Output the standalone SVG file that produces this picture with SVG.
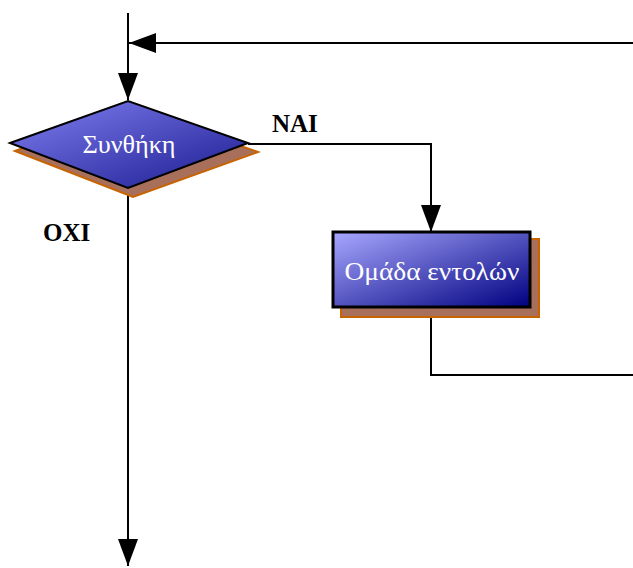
<svg xmlns="http://www.w3.org/2000/svg" width="633" height="568" viewBox="0 0 633 568">
<style>
.ln{fill:none;stroke:#000;stroke-width:2}
.lbl{font-family:"Liberation Serif","Times New Roman",serif;font-weight:bold;font-size:25px;fill:#000}
.ntxt{font-family:"Liberation Serif","DejaVu Serif","Times New Roman",serif;font-size:25px;fill:#fff;text-anchor:middle}
.shadow{fill:#a8705a;stroke:#c86400;stroke-width:2}
</style>
<defs>
<linearGradient id="gd" x1="0" y1="0" x2="1" y2="1">
<stop offset="0" stop-color="#8080f0"/>
<stop offset="1" stop-color="#1a1a90"/>
</linearGradient>
<linearGradient id="gr" x1="0" y1="0" x2="1" y2="1">
<stop offset="0" stop-color="#a8a8ff"/>
<stop offset="1" stop-color="#000080"/>
</linearGradient>
<marker id="ah" markerWidth="28" markerHeight="20" refX="27" refY="10" orient="auto" markerUnits="userSpaceOnUse">
<path d="M0,0 L27,10 L0,20 Z" fill="#000"/>
</marker>
</defs>
<g id="connectors">
<path class="ln" d="M128,13 V100" marker-end="url(#ah)"/>
<path class="ln" d="M633,43 H129" marker-end="url(#ah)"/>
<path class="ln" d="M248,144 H431 V232" marker-end="url(#ah)"/>
<path class="ln" d="M128,188 V566" marker-end="url(#ah)"/>
<path class="ln" d="M431,307 V375 H633"/>
</g>
<g id="decision">
<polygon class="shadow" points="15,151 133,108 258,152 133,197"/>
<polygon points="10,143 128,101 248,143 128,188" fill="url(#gd)" stroke="#000" stroke-width="2"/>
<text class="ntxt" x="129" y="153" textLength="93" lengthAdjust="spacingAndGlyphs">Συνθήκη</text>
</g>
<g id="process">
<rect class="shadow" x="341" y="239" width="198" height="78"/>
<rect x="333" y="232" width="197" height="75" fill="url(#gr)" stroke="#000" stroke-width="3"/>
<text class="ntxt" x="432" y="280" textLength="175" lengthAdjust="spacingAndGlyphs">Ομάδα εντολών</text>
</g>
<g id="labels">
<text class="lbl" x="272" y="132">ΝΑΙ</text>
<text class="lbl" x="43" y="241">ΟΧΙ</text>
</g>
</svg>
